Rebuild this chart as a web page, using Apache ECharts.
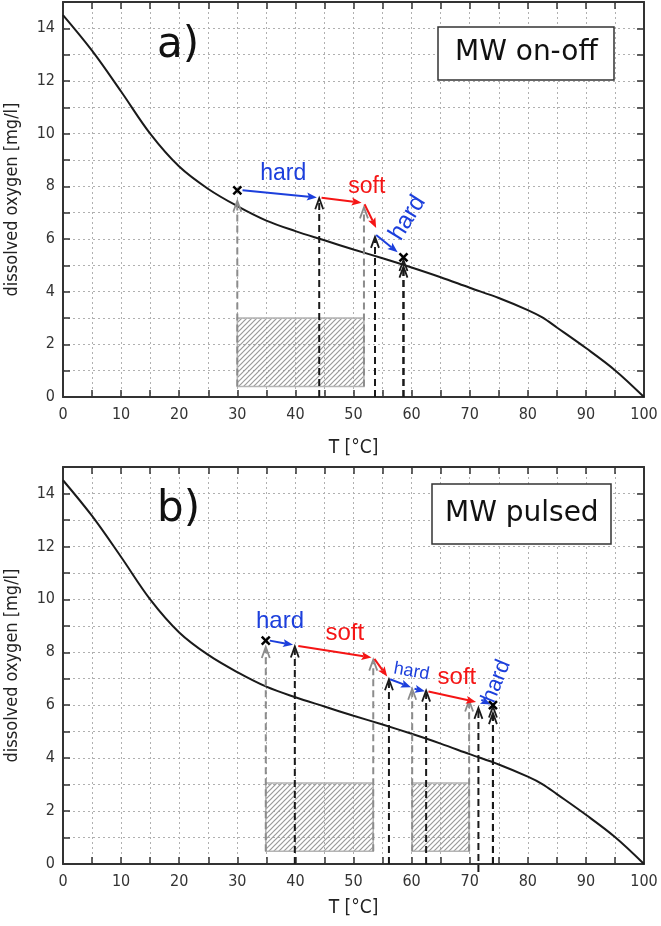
<!DOCTYPE html>
<html>
<head>
<meta charset="utf-8">
<script src="https://cdn.jsdelivr.net/npm/echarts@6/dist/echarts.min.js"></script>
<style>
  html, body { margin: 0; padding: 0; background: #fff; }
  #main { width: 661px; height: 926px; }
</style>
</head>
<body>
<div id="main"></div>
<script>
// oxygen solubility curve, T [°C] -> mg/l (same curve in both panels)
var temps  = [0, 5, 10, 15, 20, 25, 30, 35, 40, 45, 50, 55, 60, 65, 70, 75, 80, 82.5, 85, 90, 95, 100];
var oxygen = [14.5, 13.15, 11.6, 10.0, 8.75, 7.9, 7.25, 6.7, 6.3, 5.95, 5.6, 5.27, 4.92, 4.55, 4.15, 3.76, 3.3, 3.02, 2.64, 1.86, 1.02, 0];

var xTicks = [0, 10, 20, 30, 40, 50, 60, 70, 80, 90, 100];
var yTicks = [0, 2, 4, 6, 8, 10, 12, 14];

// panel a) MW on-off
// drops: [T, from, arrow tip]
var aGrayDrops  = [[30, 0.4, 7.45], [51.8, 0.4, 7.2]];
var aBlackDrops = [[44.1, 0, 7.55], [53.7, 0, 6.08], [58.6, 0, 5.2], [58.6, 0, 4.95]];
// arrows: [T0, y0, T1, y1]
var aBlueArrows = [[30.9, 7.85, 43.7, 7.58], [53.9, 6.15, 57.6, 5.5]];
var aRedArrows  = [[44.5, 7.57, 51.4, 7.38], [51.9, 7.32, 53.9, 6.42]];
var aCrosses    = [[30, 7.85], [58.6, 5.3]];
// hatched heating periods: [T0, T1, y0, y1]
var aHatch      = [[30, 51.8, 0.4, 3.0]];
var aLabelPos   = [[37.9, 8.48], [52.3, 7.98], [59.3, 6.8]];
var aLabelText  = ['hard', 'soft', 'hard'];

// panel b) MW pulsed
var bGrayDrops  = [[34.9, 0.48, 8.2], [53.4, 0.48, 7.72], [60.1, 0.48, 6.62], [69.9, 0.48, 6.18]];
var bBlackDrops = [[39.9, 0, 8.22], [56.1, 0, 6.98], [62.5, 0, 6.55], [71.5, -0.3, 5.9], [74.0, 0, 5.95], [74.0, 0, 5.7]];
var bBlueArrows = [[35.6, 8.44, 39.6, 8.28], [56.3, 6.98, 59.9, 6.68], [60.5, 6.62, 62.3, 6.53], [72.0, 6.2, 73.6, 6.03]];
var bRedArrows  = [[40.5, 8.24, 53.1, 7.8], [53.6, 7.75, 55.8, 7.08], [62.9, 6.52, 71.1, 6.12]];
var bCrosses    = [[34.9, 8.44], [74.0, 6.0]];
var bHatch      = [[34.9, 53.4, 0.48, 3.06], [60.1, 69.9, 0.48, 3.06]];
var bLabelPos   = [[37.35, 9.15], [48.5, 8.72], [60.0, 7.27], [67.8, 7.06], [74.6, 6.9]];
var bLabelText  = ['hard', 'soft', 'hard', 'soft', 'hard'];

// label styles (rotation in degrees, font size)
var aLabelRot  = [0, 0, 58];
var aLabelSize = [23, 23, 24];
var bLabelRot  = [0, 0, -10, 0, 68];
var bLabelSize = [24, 24, 18, 24, 22];

var BLUE = '#1c3fdc', RED = '#f51515', GRAY = '#8c8c8c', INK = '#1a1a1a';
var tickFont = '"DejaVu Sans Condensed", "DejaVu Sans", sans-serif';

// hatch pattern
var hatch = document.createElement('canvas');
hatch.width = 5; hatch.height = 5;
(function () {
  var c = hatch.getContext('2d');
  c.strokeStyle = '#9a9a9a';
  c.lineWidth = 1.2;
  c.beginPath();
  c.moveTo(-1, 6); c.lineTo(6, -1);
  c.moveTo(-1, 1); c.lineTo(1, -1);
  c.moveTo(4, 6); c.lineTo(6, 4);
  c.stroke();
})();

var chart = echarts.init(document.getElementById('main'));

function xAxisFor(g, pos, main) {
  return {
    type: 'value', gridIndex: g, min: 0, max: 100, interval: 5, position: pos,
    name: main ? 'T [°C]' : '', nameLocation: 'middle', nameGap: g === 0 ? 42 : 35,
    nameTextStyle: { fontFamily: tickFont, fontSize: 19, color: '#222' },
    axisLine: { show: true, onZero: false, lineStyle: { color: '#333', width: 2 } },
    axisTick: { show: true, inside: true, length: 7, lineStyle: { color: '#333', width: 1.5 } },
    axisLabel: main ? {
      margin: 10, fontFamily: tickFont, fontSize: 16, color: '#333',
      formatter: function (v) { return xTicks.indexOf(v) >= 0 ? String(v) : ''; }
    } : { show: false },
    splitLine: main ? { show: true, lineStyle: { color: '#b0b0b0', type: [2, 3], width: 1 } } : { show: false }
  };
}

function yAxisFor(g, pos, main) {
  return {
    type: 'value', gridIndex: g, min: 0, max: 15, interval: 1, position: pos,
    name: main ? 'dissolved oxygen [mg/l]' : '', nameLocation: 'middle', nameGap: 42,
    nameTextStyle: { fontFamily: tickFont, fontSize: 18, color: '#222' },
    axisLine: { show: true, onZero: false, lineStyle: { color: '#333', width: 2 } },
    axisTick: { show: true, inside: true, length: 7, lineStyle: { color: '#333', width: 1.5 } },
    axisLabel: main ? {
      margin: 8, fontFamily: tickFont, fontSize: 16, color: '#333',
      formatter: function (v) { return yTicks.indexOf(v) >= 0 ? String(v) : ''; }
    } : { show: false },
    splitLine: main ? { show: true, lineStyle: { color: '#b0b0b0', type: [2, 3], width: 1 } } : { show: false }
  };
}

function dropSeries(rows, color, g) {
  return {
    type: 'custom', xAxisIndex: g, yAxisIndex: g, clip: false, z: 4, silent: true,
    data: rows,
    renderItem: function (params, api) {
      var b = api.coord([api.value(0), api.value(1)]);
      var t = api.coord([api.value(0), api.value(2)]);
      return {
        type: 'group', children: [
          { type: 'line', shape: { x1: b[0], y1: b[1], x2: t[0], y2: t[1] + 3 },
            style: { stroke: color, lineWidth: 2, lineDash: [7, 4] } },
          { type: 'polyline', shape: { points: [[t[0] - 4, t[1] + 11], [t[0], t[1]], [t[0] + 4, t[1] + 11]] },
            style: { stroke: color, lineWidth: 1.8, fill: null } }
        ]
      };
    }
  };
}

function arrowSeries(rows, color, g) {
  return {
    type: 'custom', xAxisIndex: g, yAxisIndex: g, clip: false, z: 5, silent: true,
    data: rows,
    renderItem: function (params, api) {
      var p0 = api.coord([api.value(0), api.value(1)]);
      var p1 = api.coord([api.value(2), api.value(3)]);
      var dx = p1[0] - p0[0], dy = p1[1] - p0[1];
      var len = Math.sqrt(dx * dx + dy * dy) || 1;
      var ux = dx / len, uy = dy / len;
      var bx = p1[0] - ux * 10, by = p1[1] - uy * 10;
      return {
        type: 'group', children: [
          { type: 'line', shape: { x1: p0[0], y1: p0[1], x2: bx + ux * 2, y2: by + uy * 2 },
            style: { stroke: color, lineWidth: 2 } },
          { type: 'polygon', shape: { points: [[p1[0], p1[1]], [bx - uy * 4, by + ux * 4], [bx + ux * 2, by + uy * 2], [bx + uy * 4, by - ux * 4]] },
            style: { fill: color } }
        ]
      };
    }
  };
}

function crossSeries(rows, g) {
  return {
    type: 'custom', xAxisIndex: g, yAxisIndex: g, clip: false, z: 6, silent: true,
    data: rows,
    renderItem: function (params, api) {
      var p = api.coord([api.value(0), api.value(1)]);
      var s = 4;
      return {
        type: 'group', children: [
          { type: 'line', shape: { x1: p[0] - s, y1: p[1] - s, x2: p[0] + s, y2: p[1] + s }, style: { stroke: '#000', lineWidth: 2.5 } },
          { type: 'line', shape: { x1: p[0] - s, y1: p[1] + s, x2: p[0] + s, y2: p[1] - s }, style: { stroke: '#000', lineWidth: 2.5 } }
        ]
      };
    }
  };
}

function hatchSeries(rows, g) {
  return {
    type: 'custom', xAxisIndex: g, yAxisIndex: g, z: 2, silent: true,
    data: rows,
    renderItem: function (params, api) {
      var a = api.coord([api.value(0), api.value(3)]);
      var b = api.coord([api.value(1), api.value(2)]);
      return {
        type: 'rect', shape: { x: a[0], y: a[1], width: b[0] - a[0], height: b[1] - a[1] },
        style: { fill: { image: hatch, repeat: 'repeat' }, stroke: '#b4b4b4', lineWidth: 1.5 }
      };
    }
  };
}

function labelSeries(pos, texts, rots, sizes, g) {
  return {
    type: 'custom', xAxisIndex: g, yAxisIndex: g, clip: false, z: 7, silent: true,
    data: pos,
    renderItem: function (params, api) {
      var i = params.dataIndex;
      var p = api.coord([api.value(0), api.value(1)]);
      return {
        type: 'text', x: p[0], y: p[1], rotation: rots[i] * Math.PI / 180,
        style: {
          text: texts[i], fill: texts[i] === 'hard' ? BLUE : RED,
          font: sizes[i] + 'px "Liberation Sans", Arial, sans-serif',
          align: 'center', verticalAlign: 'middle'
        }
      };
    }
  };
}

var curve = temps.map(function (t, i) { return [t, oxygen[i]]; });

function curveSeries(g) {
  return {
    type: 'line', xAxisIndex: g, yAxisIndex: g, data: curve,
    smooth: 0.35,
    showSymbol: false, z: 3, silent: true,
    lineStyle: { color: INK, width: 2 }
  };
}

var boxStyle = {
  backgroundColor: '#fff', borderColor: '#333', borderWidth: 1.5,
  textStyle: { fontFamily: '"DejaVu Sans", sans-serif', fontSize: 28, fontWeight: 'normal', color: '#111', lineHeight: 32 }
};

var option = {
  animation: false,
  backgroundColor: '#fff',
  title: [
    { text: 'a)', left: 157, top: 25, padding: 0,
      textStyle: { fontFamily: '"DejaVu Sans", sans-serif', fontSize: 42, fontWeight: 'normal', color: '#111' } },
    { text: 'b)', left: 157, top: 489, padding: 0,
      textStyle: { fontFamily: '"DejaVu Sans", sans-serif', fontSize: 42, fontWeight: 'normal', color: '#111' } },
    Object.assign({ text: 'MW on-off', left: 438, top: 27, padding: [10, 17, 11, 17] }, boxStyle),
    Object.assign({ text: 'MW pulsed', left: 432, top: 484, padding: [14, 13, 14, 13] }, boxStyle)
  ],
  grid: [
    { left: 63, top: 2, width: 581, height: 395, outerBoundsMode: 'none', containLabel: false },
    { left: 63, top: 467, width: 581, height: 397, outerBoundsMode: 'none', containLabel: false }
  ],
  xAxis: [xAxisFor(0, 'bottom', true), xAxisFor(1, 'bottom', true), xAxisFor(0, 'top', false), xAxisFor(1, 'top', false)],
  yAxis: [yAxisFor(0, 'left', true), yAxisFor(1, 'left', true), yAxisFor(0, 'right', false), yAxisFor(1, 'right', false)],
  series: [
    curveSeries(0),
    hatchSeries(aHatch, 0),
    dropSeries(aGrayDrops, GRAY, 0),
    dropSeries(aBlackDrops, INK, 0),
    arrowSeries(aBlueArrows, BLUE, 0),
    arrowSeries(aRedArrows, RED, 0),
    crossSeries(aCrosses, 0),
    labelSeries(aLabelPos, aLabelText, aLabelRot, aLabelSize, 0),

    curveSeries(1),
    hatchSeries(bHatch, 1),
    dropSeries(bGrayDrops, GRAY, 1),
    dropSeries(bBlackDrops, INK, 1),
    arrowSeries(bBlueArrows, BLUE, 1),
    arrowSeries(bRedArrows, RED, 1),
    crossSeries(bCrosses, 1),
    labelSeries(bLabelPos, bLabelText, bLabelRot, bLabelSize, 1)
  ]
};

chart.setOption(option);
</script>
</body>
</html>
